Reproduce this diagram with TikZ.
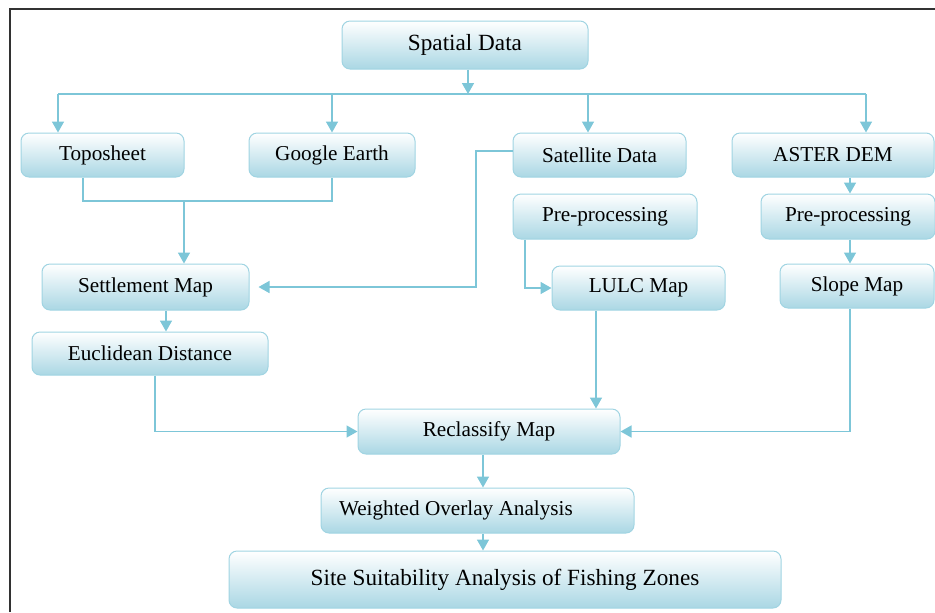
\documentclass[tikz,border=0pt]{standalone}
\usepackage{fontspec}
\setmainfont{Liberation Serif}
\usetikzlibrary{arrows.meta}
\usetikzlibrary{calc}
\definecolor{boxline}{RGB}{160,212,226}
\definecolor{boxfill}{RGB}{170,215,228}
\definecolor{flow}{RGB}{125,198,216}
\definecolor{framecol}{RGB}{50,50,50}

\begin{document}
\begin{tikzpicture}[x=0.5pt,y=-0.5pt,
box/.style={draw=boxline, line width=0.5pt, rounded corners=4pt, top color=white, bottom color=boxfill, inner sep=0pt, font=\fontsize{10.6}{12}\selectfont},
bigbox/.style={box, font=\fontsize{11.6}{13}\selectfont},
flowline/.style={draw=flow, line width=0.8pt},
>={Triangle[width=6pt,length=5.5pt]}]

\useasboundingbox (0,0) rectangle (935,612);
\draw[framecol, line width=0.75pt] (10,612) -- (10,9) -- (935,9);

\node[bigbox, minimum width=123pt, minimum height=24pt] (spatial) at (465,45) {Spatial Data};
\node[box, minimum width=81.5pt, minimum height=22pt] (topo) at (102.5,155) {Toposheet};
\node[box, minimum width=83pt, minimum height=22pt] (google) at (332,155) {Google Earth};
\node[box, minimum width=86.5pt, minimum height=22pt] (satellite) at (599.5,155) {Satellite Data};
\node[box, minimum width=101pt, minimum height=22pt] (aster) at (833,155) {ASTER DEM};
\node[box, minimum width=92pt, minimum height=22.5pt] (preA) at (605,216.5) {Pre-processing};
\node[box, minimum width=87pt, minimum height=22.5pt] (preB) at (848,216.5) {Pre-processing};
\node[box, minimum width=103.5pt, minimum height=23pt] (settlement) at (145.5,287) {Settlement Map};
\node[box, minimum width=86.5pt, minimum height=22pt] (lulc) at (638.5,288) {LULC Map};
\node[box, minimum width=77pt, minimum height=22pt] (slope) at (857,286) {Slope Map};
\node[box, minimum width=118pt, minimum height=21.5pt] (euclid) at (150,353.5) {Euclidean Distance};
\node[box, minimum width=131pt, minimum height=22.5pt] (reclass) at (489,431.5) {Reclassify Map};
\node[box, text width=138.5pt, inner xsep=9pt, align=flush left, minimum height=22.5pt] (overlay) at (477.5,510.5) {Weighted Overlay Analysis};
\node[bigbox, minimum width=276pt, minimum height=28.5pt] (site) at (505,579.5) {Site Suitability Analysis of Fishing Zones};

\coordinate (bus) at (468,94);
\coordinate (busL) at (58,94);
\coordinate (busS) at (588,94);
\coordinate (busR) at (866,94);
\coordinate (joinL) at (83,201);
\coordinate (joinM) at (184,201);
\coordinate (turn) at (476,151);
\coordinate (sdrop) at (166,0);
\coordinate (edrop) at (155,0);
\coordinate (pdrop) at (525,0);
\coordinate (ldrop) at (596,0);
\coordinate (adrop) at (850,0);
\coordinate (cdrop) at (483,0);

\begin{scope}[flowline]
\draw (busL) -- (busR);
\draw (joinL |- topo.south) -- (joinL) -| (google.south);
\end{scope}

\begin{scope}[flowline,->]
\draw (spatial.south -| bus) -- (bus);
\draw (busL) -- (busL |- topo.north);
\draw (google.north |- bus) -- (google.north);
\draw (busS) -- (busS |- satellite.north);
\draw (busR) -- (busR |- aster.north);
\draw (joinM) -- (joinM |- settlement.north);
\draw[shorten >=4.5pt] (turn -| satellite.west) -- (turn) |- (settlement.east);
\draw (settlement.south -| sdrop) -- (euclid.north -| sdrop);
\draw (euclid.south -| edrop) |- (reclass.west);
\draw (preA.south -| pdrop) |- (lulc.west);
\draw (lulc.south -| ldrop) -- (reclass.north -| ldrop);
\draw (aster.south -| adrop) -- (preB.north -| adrop);
\draw (preB.south -| adrop) -- (slope.north -| adrop);
\draw (slope.south -| adrop) |- (reclass.east);
\draw (reclass.south -| cdrop) -- (overlay.north -| cdrop);
\draw (overlay.south -| cdrop) -- (site.north -| cdrop);
\end{scope}
\end{tikzpicture}
\end{document}
